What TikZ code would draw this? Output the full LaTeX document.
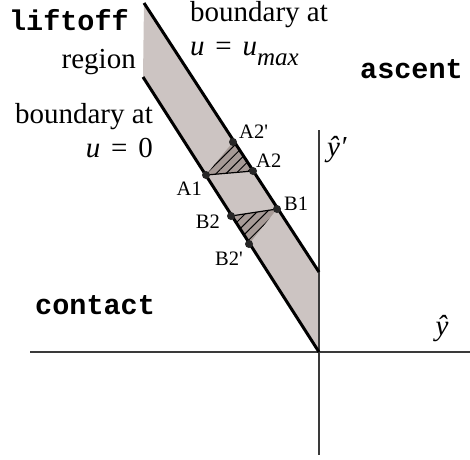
\documentclass[tikz,border=0pt]{standalone}
\usepackage{fontspec}
\setmainfont{Liberation Serif}[Ligatures=TeXOff]
\setmonofont{Liberation Mono}
\usepackage{xcolor}
\usepackage{tikz}
\usetikzlibrary{patterns.meta}
\definecolor{bandgray}{HTML}{CCC4C2}
\definecolor{hatchgray}{HTML}{A69A96}
\definecolor{axisgray}{HTML}{3A3A3A}
\newcommand{\eqsp}{\hspace{0.37em}=\hspace{0.37em}}

\begin{document}
\begin{tikzpicture}[x=1pt,y=-1pt,
  edge/.style={line width=3pt},
  axis/.style={axisgray,line width=1.5pt},
  tri/.style={preaction={fill=hatchgray},pattern={Lines[angle=45,distance=7pt,line width=1pt]}},
  lab/.style={font=\fontsize{20.5}{22}\selectfont,inner sep=0pt},
  txt/.style={font=\fontsize{29}{34}\selectfont,inner sep=0pt},
  reg/.style={font=\fontsize{28.5}{30}\selectfont\ttfamily\bfseries,inner sep=0pt}]
\useasboundingbox (0,0) rectangle (470,459);
\coordinate (O) at (319,352);
\coordinate (T1) at (144,3);
\coordinate (S1) at (319,272);
\coordinate (T0) at (143,77);
\coordinate (xl) at (30,352);
\coordinate (xr) at (470,352);
\coordinate (yt) at (319,130);
\coordinate (yb) at (319,455);
\coordinate (A1) at (206,175);
\coordinate (A2) at (253,171);
\coordinate (A2p) at (233,142);
\coordinate (B1) at (277,209);
\coordinate (B2) at (231,216);
\coordinate (B2p) at (249,244);
\fill[bandgray] (T1) -- (S1) -- (O) -- (T0) -- cycle;
\path[tri] (A1) -- (A2p) -- (A2) -- cycle;
\path[tri] (B1) -- (B2) -- (B2p) -- cycle;
\draw[line width=1.2pt] (A1) -- (A2);
\draw[line width=1.2pt] (B2) -- (B1);
\draw[axis] (xl) -- (xr);
\draw[axis] (yt) -- (yb);
\draw[edge] (T1) -- (S1);
\draw[edge] (T0) -- (O);
\foreach \p in {A1,A2,A2p,B1,B2,B2p}{\fill[black!85] (\p) circle (4);}
\node[lab,anchor=base west] (lA2p) at (239,138) {A2'};
\node[lab,anchor=base west] (lA2) at (256,167) {A2};
\node[lab,anchor=base east] (lA1) at (202,195) {A1};
\node[lab,anchor=base west] (lB1) at (284,210) {B1};
\node[lab,anchor=base east] (lB2) at (220,228) {B2};
\node[lab,anchor=base east] (lB2p) at (243,265) {B2'};
\node[reg,anchor=base east] (liftoff) at (129,30) {liftoff};
\node[txt,anchor=base east] (region) at (136,68) {region};
\node[txt,anchor=north west,align=left] (bmax) at (190,1) {boundary at\\ \textit{u}\eqsp\textit{u}\raisebox{-10pt}{\fontsize{25}{25}\selectfont\textit{max}}};
\node[txt,anchor=north east,align=right] (bzero) at (153,103) {boundary at\\ \textit{u}\eqsp 0};
\node[reg,anchor=base east] (ascent) at (463,78) {ascent};
\node[reg,anchor=base west] (contact) at (35,314) {contact};
\node[txt,anchor=west] (yhp) at (327,150) {\textit{ŷ′}};
\node[txt,anchor=base] (yh) at (442,335) {\textit{ŷ}};
\end{tikzpicture}
\end{document}
